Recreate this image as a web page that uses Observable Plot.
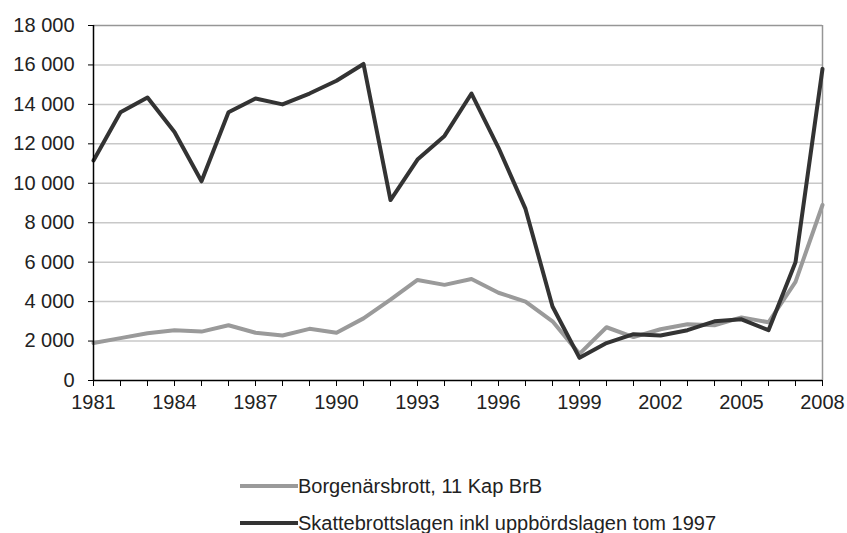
<!DOCTYPE html>
<html><head><meta charset="utf-8">
<script src="https://cdn.jsdelivr.net/npm/d3@7"></script>
<script src="https://cdn.jsdelivr.net/npm/@observablehq/plot@0.6"></script>
<style>
body{margin:0;background:#fff;font-family:"Liberation Sans",Arial,sans-serif;}
#legend{position:relative;width:847px;height:103px;}
.item{position:absolute;left:240px;height:24px;display:flex;align-items:center;font-size:20px;color:#222;white-space:nowrap;}
.sw{width:58px;height:4px;margin-right:0px;}
</style></head><body>
<div id="chart"></div>
<div id="legend"></div>
<script>
const years = [1981,1982,1983,1984,1985,1986,1987,1988,1989,1990,1991,1992,1993,1994,1995,1996,1997,1998,1999,2000,2001,2002,2003,2004,2005,2006,2007,2008];
const borgenar = [1900,2150,2400,2550,2480,2800,2420,2280,2620,2420,3150,4100,5100,4850,5150,4450,4000,3000,1350,2700,2200,2600,2850,2800,3200,2950,5000,8900];
const skatte = [11150,13600,14350,12600,10100,13600,14300,14000,14550,15200,16050,9150,11200,12400,14550,11800,8700,3750,1150,1900,2350,2280,2550,3000,3100,2550,6000,15800];
const seriesNames = ["Borgenärsbrott, 11 Kap BrB", "Skattebrottslagen inkl uppbördslagen tom 1997"];
const seriesColors = ["#9a9a9a", "#333333"];
const yTicks = [0,2000,4000,6000,8000,10000,12000,14000,16000,18000];
const xLabelEvery = 3;

const rows = [];
years.forEach((yr,i)=>{
  rows.push({year:yr, v:borgenar[i], s:seriesNames[0]});
  rows.push({year:yr, v:skatte[i], s:seriesNames[1]});
});

const fmt = d3.formatLocale({thousands:"\u00a0", grouping:[3], decimal:","}).format(",");
const H = 430;
const chart = Plot.plot({
  width:847, height:H, marginLeft:93, marginRight:25, marginTop:25, marginBottom:H-380,
  style:{fontFamily:"'Liberation Sans', Arial, sans-serif", fontSize:"20px", color:"#222", background:"#fff", overflow:"visible"},
  x:{domain:[years[0], years[years.length-1]]},
  y:{domain:[0,18000]},
  color:{domain:seriesNames, range:seriesColors},
  marks:[
    Plot.gridY(yTicks.filter(v=>v>0 && v<18000), {stroke:"#c8c8c8", strokeOpacity:1, strokeWidth:1.5}),
    Plot.ruleY([18000], {stroke:"#969696", strokeWidth:1.5}),
    Plot.ruleX([years[years.length-1]], {stroke:"#969696", strokeWidth:1.5}),
    Plot.line(rows, {x:"year", y:"v", z:"s", stroke:"s", strokeWidth:4, strokeLinejoin:"round"}),
    Plot.ruleX([years[0]], {stroke:"#000", strokeWidth:1.5}),
    Plot.ruleY([0], {stroke:"#000", strokeWidth:1.5}),
    Plot.axisY({ticks:yTicks, tickFormat:fmt, tickSize:5, tickPadding:14, label:null, stroke:"#000", strokeOpacity:1}),
    Plot.axisX({ticks:years, tickFormat:d => (d-years[0])%xLabelEvery===0 ? String(d) : "", tickSize:6, tickPadding:8, label:null, stroke:"#000", strokeOpacity:1})
  ]
});
document.getElementById("chart").appendChild(chart);

const legend = document.getElementById("legend");
const tops = [44, 81];
seriesNames.forEach((n,i)=>{
  const it = document.createElement("div");
  it.className = "item";
  it.style.top = tops[i] + "px";
  const sw = document.createElement("span");
  sw.className = "sw";
  sw.style.background = seriesColors[i];
  const t = document.createElement("span");
  t.textContent = n;
  it.appendChild(sw); it.appendChild(t);
  legend.appendChild(it);
});
</script>
</body></html>
